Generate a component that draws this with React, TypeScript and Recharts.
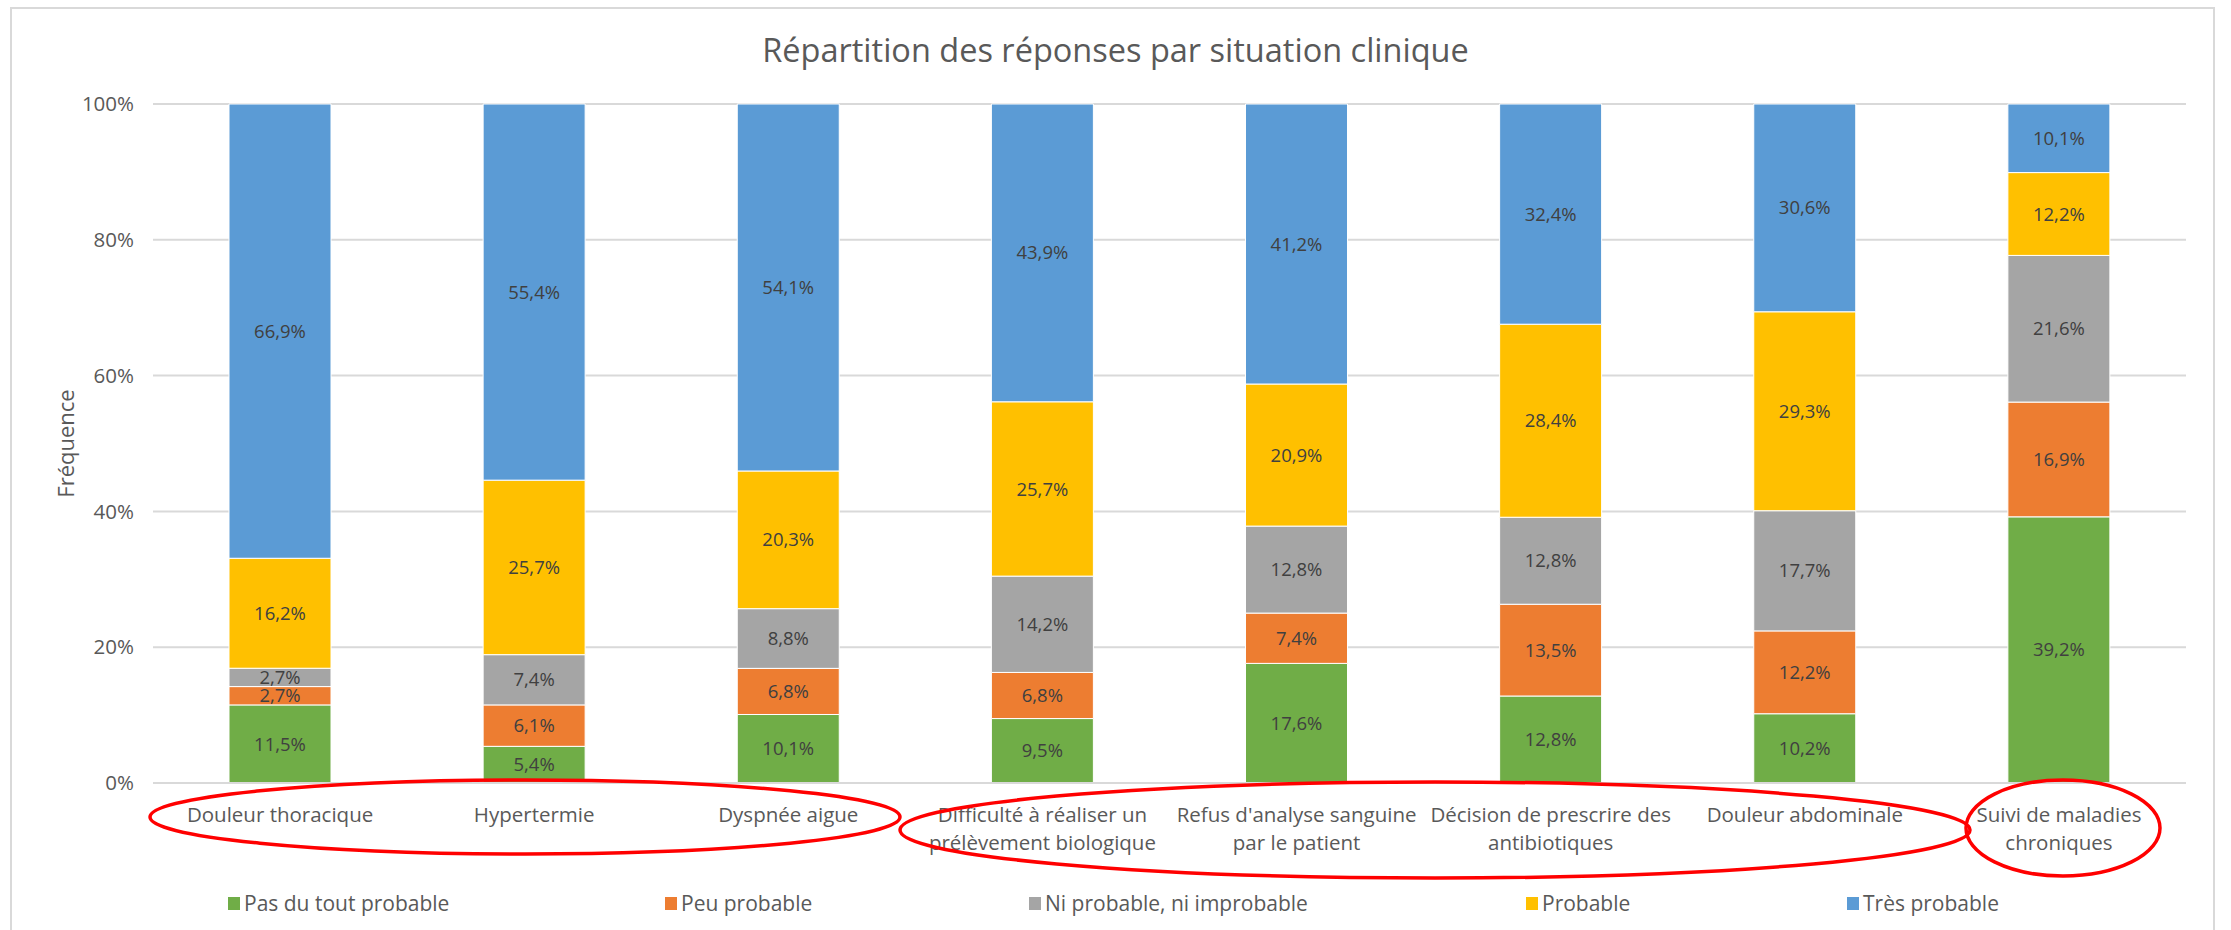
import React from 'react';
import { BarChart, Bar, XAxis, YAxis, CartesianGrid, LabelList, Legend } from 'recharts';

// categories (\n = line break as in the original axis)
const categories = [
  'Douleur thoracique',
  'Hypertermie',
  'Dyspnée aigue',
  'Difficulté à réaliser un\nprélèvement biologique',
  "Refus d'analyse sanguine\npar le patient",
  'Décision de prescrire des\nantibiotiques',
  'Douleur abdominale',
  'Suivi de maladies\nchroniques',
];

const pasDuTout = [11.5, 5.4, 10.1, 9.5, 17.6, 12.8, 10.2, 39.2];
const peuProbable = [2.7, 6.1, 6.8, 6.8, 7.4, 13.5, 12.2, 16.9];
const niNi = [2.7, 7.4, 8.8, 14.2, 12.8, 12.8, 17.7, 21.6];
const probable = [16.2, 25.7, 20.3, 25.7, 20.9, 28.4, 29.3, 12.2];
const tresProbable = [66.9, 55.4, 54.1, 43.9, 41.2, 32.4, 30.6, 10.1];

const yTicks = [0, 0.2, 0.4, 0.6, 0.8, 1];

const FONT = "'Open Sans', sans-serif";
const TEXT = '#595959';

const series = [
  { key: 'pas', name: 'Pas du tout probable', color: '#70ad47', values: pasDuTout, legendX: 228 },
  { key: 'peu', name: 'Peu probable', color: '#ed7d31', values: peuProbable, legendX: 665 },
  { key: 'ni', name: 'Ni probable, ni improbable', color: '#a5a5a5', values: niNi, legendX: 1029 },
  { key: 'prob', name: 'Probable', color: '#ffc000', values: probable, legendX: 1526 },
  { key: 'tres', name: 'Très probable', color: '#5b9bd5', values: tresProbable, legendX: 1847 },
];

const data = categories.map((name, i) => {
  const row: Record<string, string | number> = { name };
  series.forEach(s => { row[s.key] = s.values[i]; });
  return row;
});

const fmt = (v: number) => `${Number(v).toFixed(1).replace('.', ',')}%`;

function CategoryTick(props: any) {
  const { x, y, payload } = props;
  const lines = String(payload.value).split('\n');
  return (
    <text x={x} y={y + 39} textAnchor="middle" fill={TEXT} fontSize={20.5} fontFamily={FONT}>
      {lines.map((l, i) => (
        <tspan key={i} x={x} dy={i === 0 ? 0 : 28}>{l}</tspan>
      ))}
    </text>
  );
}

function YLabel(props: any) {
  const vb = props.viewBox || { x: 0, y: 104, height: 679 };
  const cx = 65;
  const cy = vb.y + vb.height / 2;
  return (
    <text x={cx} y={cy} transform={`rotate(-90, ${cx}, ${cy})`} textAnchor="middle"
      dominantBaseline="central" fill={TEXT} fontSize={22} fontFamily={FONT}>
      Fréquence
    </text>
  );
}

function renderLegend() {
  return (
    <div style={{ position: 'relative', width: 2231, height: 30, fontFamily: FONT }}>
      {series.map(s => (
        <div key={s.key} style={{ position: 'absolute', left: s.legendX, top: 0, display: 'flex', alignItems: 'center', height: 30 }}>
          <span style={{ width: 12, height: 13, background: s.color, display: 'inline-block', marginRight: 4 }} />
          <span style={{ fontSize: 21, color: TEXT, whiteSpace: 'nowrap' }}>{s.name}</span>
        </div>
      ))}
    </div>
  );
}

export default function App() {
  return (
    <div style={{ position: 'absolute', left: 0, top: 0, width: 2231, height: 930, overflow: 'hidden', background: '#fff' }}>
      <div style={{ position: 'absolute', left: 10, top: 7, width: 2205, height: 960, border: '2px solid #d9d9d9', boxSizing: 'border-box' }} />
      <div style={{ position: 'absolute', left: 0, top: 30, width: 2231, textAlign: 'center', fontFamily: FONT, fontSize: 32.5, lineHeight: '40px', color: TEXT }}>
        Répartition des réponses par situation clinique
      </div>
      <div style={{ position: 'absolute', left: 0, top: 0 }}>
        <BarChart width={2231} height={930} data={data} stackOffset="expand"
          margin={{ top: 104, right: 45, bottom: 0, left: 0 }}>
          <CartesianGrid vertical={false} stroke="#d9d9d9" strokeWidth={2} />
          <XAxis dataKey="name" interval={0} height={147} tickLine={false} tickSize={0} tickMargin={0}
            axisLine={{ stroke: '#d9d9d9', strokeWidth: 2 }} tick={<CategoryTick />} />
          <YAxis domain={[0, 1]} ticks={yTicks} width={153} axisLine={false} tickLine={false}
            tickSize={0} tickMargin={19} tickFormatter={(v: number) => `${Math.round(v * 100)}%`}
            tick={{ fill: TEXT, fontSize: 20.5, fontFamily: FONT }} label={<YLabel />} />
          <Legend layout="horizontal" verticalAlign="middle" align="center" content={renderLegend}
            wrapperStyle={{ top: 888, left: 0, width: 2231 }} />
          {series.map(s => (
            <Bar key={s.key} dataKey={s.key} name={s.name} stackId="a" fill={s.color} barSize={102}
              stroke="#ffffff" strokeWidth={1} isAnimationActive={false}>
              <LabelList dataKey={s.key} position="center" formatter={(v: any) => fmt(v)}
                fill="#404040" fontSize={18.5} fontFamily={FONT} />
            </Bar>
          ))}
        </BarChart>
      </div>
      <svg width={2231} height={930} style={{ position: 'absolute', left: 0, top: 0, pointerEvents: 'none' }}>
        <ellipse cx={525} cy={817} rx={375} ry={37} fill="none" stroke="#ff0000" strokeWidth={3.5} />
        <ellipse cx={1435} cy={830} rx={535} ry={48} fill="none" stroke="#ff0000" strokeWidth={3.5} />
        <ellipse cx={2063} cy={828} rx={97} ry={48} fill="none" stroke="#ff0000" strokeWidth={3.5} />
      </svg>
    </div>
  );
}
